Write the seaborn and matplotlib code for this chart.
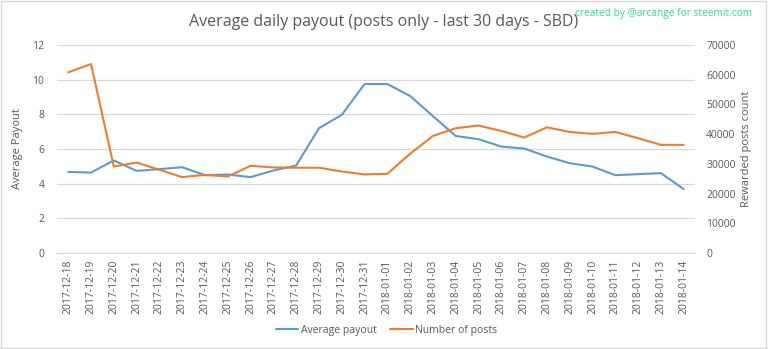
import matplotlib
matplotlib.use("Agg")
import matplotlib.pyplot as plt
import seaborn as sns
import pandas as pd
from matplotlib.lines import Line2D

dates = ["2017-12-18","2017-12-19","2017-12-20","2017-12-21","2017-12-22","2017-12-23","2017-12-24",
         "2017-12-25","2017-12-26","2017-12-27","2017-12-28","2017-12-29","2017-12-30","2017-12-31",
         "2018-01-01","2018-01-02","2018-01-03","2018-01-04","2018-01-05","2018-01-06","2018-01-07",
         "2018-01-08","2018-01-09","2018-01-10","2018-01-11","2018-01-12","2018-01-13","2018-01-14"]
avg_payout = [4.68, 4.64, 5.34, 4.74, 4.84, 4.95, 4.49, 4.53, 4.38, 4.76, 5.05, 7.2, 7.97, 9.75,
              9.75, 9.06, 7.9, 6.75, 6.57, 6.14, 6.03, 5.57, 5.18, 4.99, 4.49, 4.55, 4.61, 3.69]
num_posts = [60800, 63600, 29100, 30450, 28000, 25550, 26300, 25750, 29350, 28800, 28700, 28700,
             27450, 26450, 26650, 33400, 39400, 42000, 42900, 41100, 38850, 42300, 40750, 40100,
             40750, 38650, 36400, 36400]

df = pd.DataFrame({"idx": range(len(dates)), "date": dates, "payout": avg_payout, "posts": num_posts})

sns.set_style("white")
plt.rcParams["font.family"] = ["Open Sans", "DejaVu Sans"]

BLUE = "#5b9bd5"
ORANGE = "#ed7d31"
GRAY = "#595959"
GRID = "#d9d9d9"

fig = plt.figure(figsize=(7.68, 3.49), dpi=100)
ax = fig.add_axes([0.074, 0.275, 0.831, 0.596])
ax2 = ax.twinx()

sns.lineplot(data=df, x="idx", y="payout", ax=ax, color=BLUE, linewidth=1.5)
sns.lineplot(data=df, x="idx", y="posts", ax=ax2, color=ORANGE, linewidth=1.5)

ax.set_ylim(0, 12)
ax.set_yticks(range(0, 13, 2))
ax2.set_ylim(0, 70000)
ax2.set_yticks(range(0, 70001, 10000))
ax.set_xlim(-0.5, len(dates) - 0.5)
ax.set_xticks(range(len(dates)))
ax.set_xticklabels(dates, rotation=90, fontsize=7, color=GRAY)

ax.grid(axis="y", color=GRID, linewidth=0.9)
ax.set_axisbelow(True)
for a in (ax, ax2):
    for s in a.spines.values():
        s.set_visible(False)
    a.tick_params(length=0, colors=GRAY, labelsize=7.5)
ax.spines["bottom"].set_visible(True)
ax.spines["bottom"].set_color(GRID)
ax.tick_params(axis="y", pad=9)
ax2.tick_params(axis="y", pad=8)
ax.tick_params(axis="x", pad=5)

ax.set_xlabel("")
ax.set_ylabel("Average Payout", color=GRAY, fontsize=8, labelpad=7)
ax2.set_ylabel("Rewarded posts count", color=GRAY, fontsize=8, labelpad=4)

fig.text(0.5, 0.937, "Average daily payout (posts only - last 30 days - SBD)",
         ha="center", va="center", fontsize=11.5, color=GRAY)
fig.text(0.979, 0.962, "created by @arcange for steemit.com",
         ha="right", va="center", fontsize=7.3, color="#2edba6")

handles = [Line2D([], [], color=BLUE, lw=1.5), Line2D([], [], color=ORANGE, lw=1.5)]
fig.legend(handles, ["Average payout", "Number of posts"], loc="center",
           bbox_to_anchor=(0.503, 0.054), ncol=2, frameon=False, fontsize=7.5,
           handlelength=2.2, handletextpad=0.2, columnspacing=1.3, labelcolor=GRAY)

fig.patches.append(plt.Rectangle((0.001, 0.002), 0.997, 0.995, transform=fig.transFigure,
                                 fill=False, edgecolor="#d9d9d9", linewidth=1))

fig.savefig("out.png", dpi=100)
